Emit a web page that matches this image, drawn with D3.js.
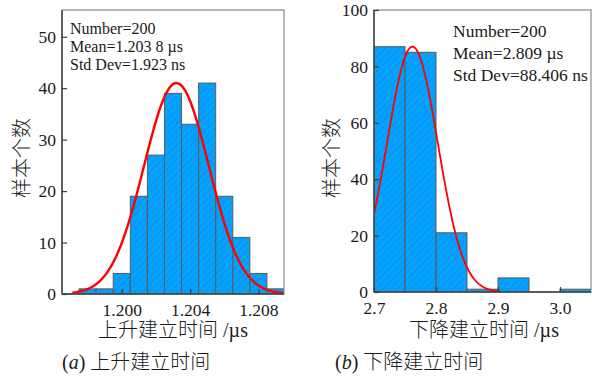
<!DOCTYPE html>
<html>
<head>
<meta charset="utf-8">
<script src="https://cdn.jsdelivr.net/npm/d3@7"></script>
<style>
  body { margin: 0; background: #fff; }
  svg { display: block; }
  text { font-family: "Liberation Serif", "Noto Sans CJK SC", serif; fill: #1a1a1a; }
</style>
</head>
<body>
<div id="chart"></div>
<script>
// (a) rising settle time, bins of 0.001 us (centres)
var riseBins = [1.198, 1.199, 1.200, 1.201, 1.202, 1.203, 1.204, 1.205, 1.206, 1.207, 1.208, 1.209];
var riseCounts = [1, 1, 4, 19, 27, 39, 33, 41, 19, 11, 4, 1];
var riseTicksX = [1.200, 1.204, 1.208];
var riseTicksY = [0, 10, 20, 30, 40, 50];
var riseStats = ["Number=200", "Mean=1.203 8 \u00b5s", "Std Dev=1.923 ns"];
var riseFit = { mu: 1.2032, sigma: 0.0019, peak: 41, from: 1.1971 };

// (b) falling settle time, bins of 0.05 us (left edges)
var fallBins = [2.70, 2.75, 2.80, 2.85, 2.90, 2.95, 3.00];
var fallCounts = [87, 85, 21, 1, 5, 0, 1];
var fallTicksX = [2.7, 2.8, 2.9, 3.0];
var fallTicksY = [0, 20, 40, 60, 80, 100];
var fallStats = ["Number=200", "Mean=2.809 \u00b5s", "Std Dev=88.406 ns"];
var fallFit = { mu: 2.762, sigma: 0.041, peak: 87, from: 2.7, to: 2.9 };

var svg = d3.select("#chart").append("svg")
    .attr("width", 592)
    .attr("height", 382);

var defs = svg.append("defs");
var pat = defs.append("pattern")
    .attr("id", "hatch")
    .attr("patternUnits", "userSpaceOnUse")
    .attr("width", 7)
    .attr("height", 7);
pat.append("rect").attr("width", 7).attr("height", 7).attr("fill", "#00a3ff");
pat.append("path")
    .attr("d", "M-1,8 L8,-1 M-1,1 L1,-1 M6,8 L8,6")
    .attr("stroke", "#2f77b8")
    .attr("stroke-width", 0.7);

function panel(opt) {
  var g = svg.append("g");
  var x = d3.scaleLinear().domain(opt.xDomain).range([opt.left, opt.right]);
  var y = d3.scaleLinear().domain(opt.yDomain).range([opt.bottom, opt.top]);

  defs.append("clipPath").attr("id", opt.id)
    .append("rect")
    .attr("x", opt.left).attr("y", opt.top)
    .attr("width", opt.right - opt.left).attr("height", opt.bottom - opt.top);

  var plot = g.append("g").attr("clip-path", "url(#" + opt.id + ")");

  plot.selectAll("rect.bar")
    .data(opt.bins.map(function(b, i) { return { x0: opt.x0(b), x1: opt.x1(b), n: opt.counts[i] }; }))
    .enter()
    .append("rect")
    .attr("class", "bar")
    .attr("x", function(d) { return x(d.x0); })
    .attr("width", function(d) { return x(d.x1) - x(d.x0); })
    .attr("y", function(d) { return y(d.n); })
    .attr("height", function(d) { return y(0) - y(d.n); })
    .attr("fill", "url(#hatch)")
    .attr("stroke", "#5b5b5b")
    .attr("stroke-width", 1);

  // fitted normal curve
  var f = opt.fit;
  var end = f.to !== undefined ? f.to : opt.xDomain[1];
  var pts = d3.range(f.from, end + 1e-9, (end - f.from) / 200).map(function(v) {
    var z = (v - f.mu) / f.sigma;
    return [v, f.peak * Math.exp(-0.5 * z * z)];
  });
  plot.append("path")
    .datum(pts)
    .attr("fill", "none")
    .attr("stroke", "#ff0000")
    .attr("stroke-width", opt.curveW)
    .attr("d", d3.line().x(function(d) { return x(d[0]); }).y(function(d) { return y(d[1]); }));

  // frame
  g.append("rect")
    .attr("x", opt.left).attr("y", opt.top)
    .attr("width", opt.right - opt.left).attr("height", opt.bottom - opt.top)
    .attr("fill", "none")
    .attr("stroke", "#8a8a8a")
    .attr("stroke-width", 1.2);

  var xAxis = g.append("g")
    .attr("transform", "translate(0," + opt.bottom + ")")
    .call(d3.axisBottom(x).tickValues(opt.xTicks).tickSizeInner(-5).tickSizeOuter(0).tickPadding(10).tickFormat(opt.xFmt));
  var yAxis = g.append("g")
    .attr("transform", "translate(" + opt.left + ",0)")
    .call(d3.axisLeft(y).tickValues(opt.yTicks).tickSizeInner(-5).tickSizeOuter(0).tickPadding(6));
  [xAxis, yAxis].forEach(function(a) {
    a.select(".domain").attr("stroke", "#3c3c3c").attr("stroke-width", 1.4);
    a.selectAll(".tick line").attr("stroke", "#3c3c3c").attr("stroke-width", 1.2);
    a.selectAll("text").style("font-family", "Liberation Serif").style("font-size", "17.5px").attr("fill", "#1a1a1a");
  });
  yAxis.select(".domain").attr("d", "M0," + opt.bottom + "V" + opt.top);
  xAxis.select(".domain").attr("d", "M" + opt.left + ",0H" + opt.right);

  // stats box
  g.selectAll("text.stat")
    .data(opt.stats)
    .enter()
    .append("text")
    .attr("class", "stat")
    .attr("x", opt.statX)
    .attr("y", function(d, i) { return opt.statY + i * opt.statGap; })
    .style("font-size", opt.statSize + "px")
    .text(function(d) { return d; });

  // axis titles
  g.append("text")
    .attr("transform", "translate(" + opt.yTitleX + "," + opt.yTitleY + ") rotate(-90)")
    .attr("text-anchor", "middle")
    .attr("dominant-baseline", "central")
    .style("font-size", "20px")
    .style("font-weight", 300)
    .text("样本个数");
  g.append("text")
    .attr("x", opt.xTitleX)
    .attr("y", 337)
    .attr("text-anchor", "middle")
    .style("font-size", "20px")
    .style("font-weight", 300)
    .text(opt.xTitle);

  // caption
  var cap = g.append("text")
    .attr("x", opt.capX)
    .attr("y", 369)
    .style("font-size", "20px")
    .style("font-weight", 300);
  cap.append("tspan").text("(");
  cap.append("tspan").style("font-style", "italic").text(opt.capLetter);
  cap.append("tspan").text(") " + opt.capText);
}

panel({
  id: "clipA",
  left: 62, right: 284, top: 10, bottom: 294,
  xDomain: [1.1965, 1.2095], yDomain: [0, 55.2],
  bins: riseBins, counts: riseCounts,
  x0: function(b) { return b - 0.0005; }, x1: function(b) { return b + 0.0005; },
  xTicks: riseTicksX, yTicks: riseTicksY, xFmt: d3.format(".3f"),
  fit: riseFit, curveW: 2.4,
  stats: riseStats, statX: 70, statY: 34, statGap: 18, statSize: 16,
  yTitleX: 22, yTitleY: 158,
  xTitle: "上升建立时间 /\u00b5s", xTitleX: 173,
  capX: 62, capLetter: "a", capText: "上升建立时间"
});

panel({
  id: "clipB",
  left: 374, right: 591, top: 10, bottom: 292,
  xDomain: [2.7, 3.05], yDomain: [0, 100],
  bins: fallBins, counts: fallCounts,
  x0: function(b) { return b; }, x1: function(b) { return b + 0.05; },
  xTicks: fallTicksX, yTicks: fallTicksY, xFmt: d3.format(".1f"),
  fit: fallFit, curveW: 1.8,
  stats: fallStats, statX: 453, statY: 37, statGap: 22, statSize: 17.5,
  yTitleX: 332, yTitleY: 158,
  xTitle: "下降建立时间 /\u00b5s", xTitleX: 484,
  capX: 335, capLetter: "b", capText: "下降建立时间"
});
</script>
</body>
</html>
